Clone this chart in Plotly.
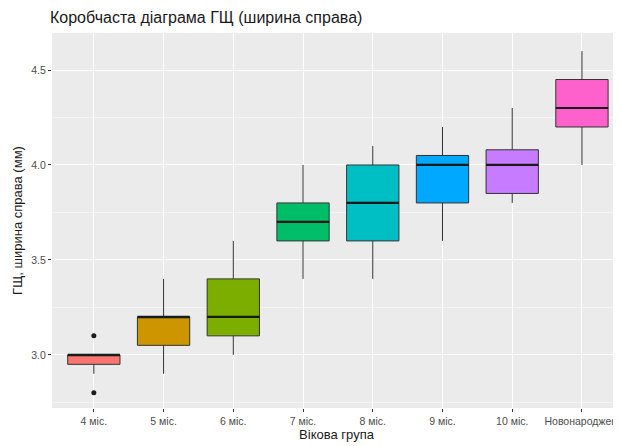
import plotly.graph_objects as go

groups = ["4 міс.", "5 міс.", "6 міс.", "7 міс.", "8 міс.", "9 міс.", "10 міс.", "Новонароджені"]
q1 = [2.95, 3.05, 3.10, 3.60, 3.60, 3.80, 3.85, 4.20]
median = [3.00, 3.20, 3.20, 3.70, 3.80, 4.00, 4.00, 4.30]
q3 = [3.00, 3.20, 3.40, 3.80, 4.00, 4.05, 4.08, 4.45]
lower = [2.90, 2.90, 3.00, 3.40, 3.40, 3.60, 3.80, 4.00]
upper = [3.00, 3.40, 3.60, 4.00, 4.10, 4.20, 4.30, 4.60]
outlier_group = ["4 міс.", "4 міс."]
outlier_value = [3.10, 2.80]
colors = ["#F8766D", "#CD9600", "#7CAE00", "#00BE67", "#00BFC4", "#00A9FF", "#C77CFF", "#FF61CC"]

FONT = "Liberation Sans, Arial, sans-serif"
BW = 0.75
# page has an 8px body margin: figure is sized/offset to compensate
W, H = 613, 438

fig = go.Figure()
for i, g in enumerate(groups):
    fig.add_trace(go.Box(
        x=[i], q1=[q1[i]], median=[median[i]], q3=[q3[i]],
        lowerfence=[lower[i]], upperfence=[upper[i]],
        width=BW, whiskerwidth=0, fillcolor=colors[i],
        line=dict(color="#333333", width=1), boxpoints=False,
        showlegend=False, hoverinfo="skip",
    ))
    # thicker median line as in ggplot
    fig.add_trace(go.Scatter(
        x=[i - BW / 2, i + BW / 2], y=[median[i], median[i]], mode="lines",
        line=dict(color="#1a1a1a", width=2.2), showlegend=False, hoverinfo="skip",
    ))

fig.add_trace(go.Scatter(
    x=[groups.index(g) for g in outlier_group], y=outlier_value, mode="markers",
    marker=dict(color="#1a1a1a", size=5), showlegend=False, hoverinfo="skip",
))

fig.update_layout(
    width=W, height=H,
    margin=dict(l=44, r=0, t=25, b=38, autoexpand=False),
    paper_bgcolor="white", plot_bgcolor="#EBEBEB",
    font=dict(family=FONT),
    title=dict(text="Коробчаста діаграма ГЩ (ширина справа)", x=42 / W, xanchor="left",
               y=1 - 9 / H, yanchor="middle", font=dict(size=16, color="#1a1a1a")),
)
fig.update_xaxes(
    range=[-0.6, 7.56], tickvals=list(range(len(groups))), ticktext=groups,
    showgrid=True, gridcolor="white", gridwidth=1.2, zeroline=False,
    ticks="outside", ticklen=3, tickcolor="#333333", automargin=False,
    tickfont=dict(size=10.5, color="#4D4D4D"),
    title=dict(text="Вікова група", font=dict(size=13, color="#1a1a1a"), standoff=3),
)
fig.update_yaxes(
    range=[2.72, 4.695], tickvals=[3.0, 3.5, 4.0, 4.5], ticktext=["3.0", "3.5", "4.0", "4.5"],
    showgrid=True, gridcolor="white", gridwidth=1.2, zeroline=False,
    minor=dict(tickvals=[2.75, 3.25, 3.75, 4.25], showgrid=True, gridcolor="#F5F5F5", gridwidth=0.6, ticks=""),
    ticks="outside", ticklen=3, tickcolor="#333333", automargin=False,
    tickfont=dict(size=10.5, color="#4D4D4D"),
    title=dict(text="ГЩ, ширина справа (мм)", font=dict(size=13, color="#1a1a1a"), standoff=5),
)

fig.write_html("out.html")
